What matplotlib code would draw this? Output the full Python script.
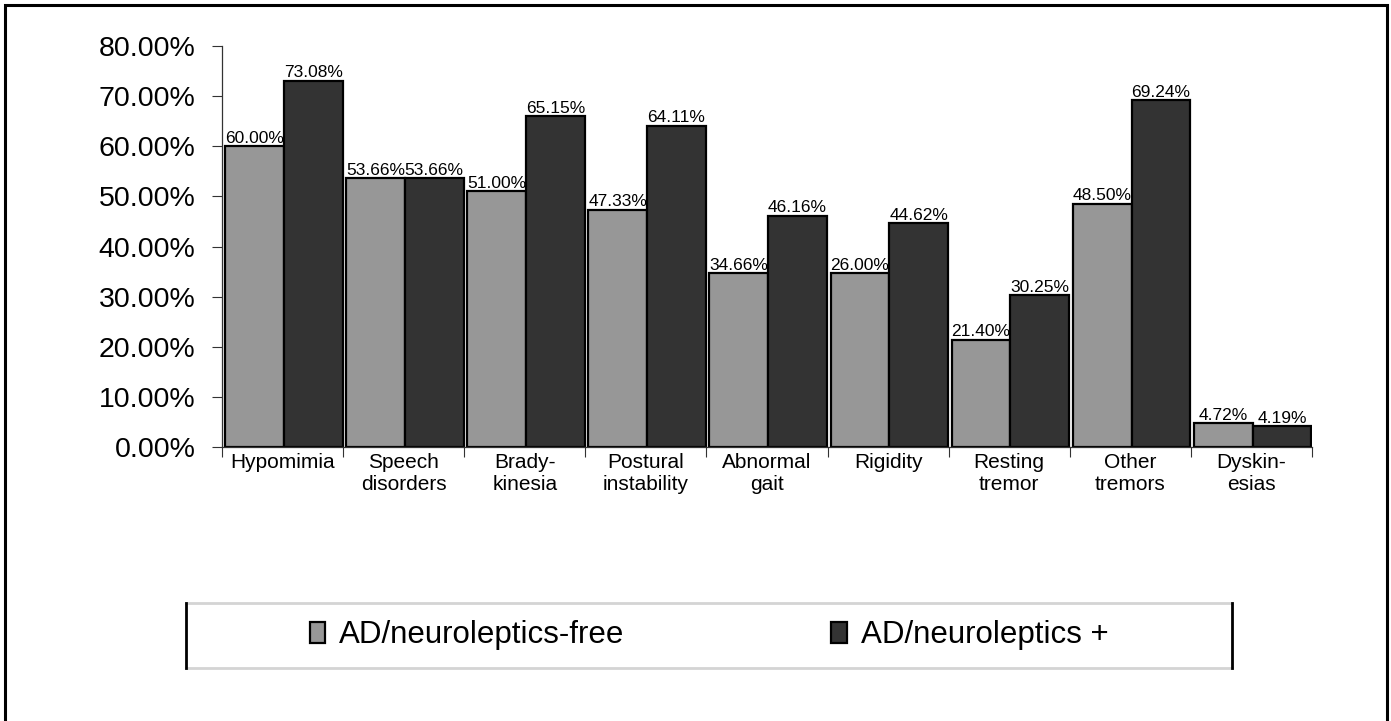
import matplotlib
matplotlib.use("Agg")
import matplotlib.pyplot as plt
from matplotlib.lines import Line2D
from matplotlib.patches import Rectangle
import numpy as np

plt.rcParams['font.family'] = ['Liberation Sans', 'DejaVu Sans']

# data
categories = ["Hypomimia", "Speech\ndisorders", "Brady-\nkinesia", "Postural\ninstability",
              "Abnormal\ngait", "Rigidity", "Resting\ntremor", "Other\ntremors", "Dyskin-\nesias"]
free_heights = [60.00, 53.66, 51.00, 47.33, 34.66, 34.66, 21.40, 48.50, 4.72]
plus_heights = [73.08, 53.66, 66.00, 64.11, 46.16, 44.62, 30.25, 69.24, 4.19]
free_labels = ["60.00%", "53.66%", "51.00%", "47.33%", "34.66%", "26.00%", "21.40%", "48.50%", "4.72%"]
plus_labels = ["73.08%", "53.66%", "65.15%", "64.11%", "46.16%", "44.62%", "30.25%", "69.24%", "4.19%"]
yticks = [0, 10, 20, 30, 40, 50, 60, 70, 80]
series_names = ["AD/neuroleptics-free", "AD/neuroleptics +"]

fig = plt.figure(figsize=(13.91, 7.21), dpi=100)
ax = fig.add_axes([0.1596, 0.380, 0.7836, 0.5562])

x = np.arange(len(categories))
w = 0.485
b1 = ax.bar(x + 0.025, free_heights, width=w, align='edge', color='#979797',
            edgecolor='black', linewidth=1.6, label=series_names[0])
b2 = ax.bar(x + 0.025 + w, plus_heights, width=w, align='edge', color='#333333',
            edgecolor='black', linewidth=1.6, label=series_names[1])

for rect, lab in zip(b1, free_labels):
    ax.annotate(lab, (rect.get_x() + rect.get_width() / 2, rect.get_height()),
                xytext=(0, 0.3), textcoords='offset points', ha='center', va='bottom', fontsize=12.5)
for rect, lab in zip(b2, plus_labels):
    ax.annotate(lab, (rect.get_x() + rect.get_width() / 2, rect.get_height()),
                xytext=(0, 0.3), textcoords='offset points', ha='center', va='bottom', fontsize=12.5)

ax.set_xlim(0, len(categories))
ax.set_ylim(0, 80)
ax.set_yticks(yticks)
ax.set_yticklabels(["%.2f%%" % v for v in yticks], fontsize=20.5)
ax.tick_params(axis='y', length=7, width=0.8, pad=12, color='#333333')

# ticks at group boundaries, labels in the middle
ax.set_xticks(np.arange(len(categories) + 1))
ax.set_xticklabels([])
ax.set_xticks(x + 0.5, minor=True)
ax.set_xticklabels(categories, minor=True, fontsize=15)
ax.tick_params(axis='x', which='major', length=7, width=0.8, color='#333333')
ax.tick_params(axis='x', which='minor', length=0, pad=4)

for s in ['top', 'right']:
    ax.spines[s].set_visible(False)
for s in ['left', 'bottom']:
    ax.spines[s].set_linewidth(0.9)
    ax.spines[s].set_color('#333333')

# legend
leg = fig.legend(handles=[b1, b2], loc='center', bbox_to_anchor=(0.5097, 0.1186), ncol=2,
                 frameon=False, fontsize=22.5, handlelength=0.5, handleheight=0.65,
                 handletextpad=0.45, columnspacing=6.6)

# legend box: gray top/bottom, black sides
lx0, lx1 = 186 / 1391, 1232 / 1391
ly0, ly1 = 1 - 668 / 721, 1 - 603 / 721
fig.add_artist(Line2D([lx0, lx1], [ly1, ly1], color='#d4d4d4', lw=2, transform=fig.transFigure))
fig.add_artist(Line2D([lx0, lx1], [ly0, ly0], color='#d4d4d4', lw=2, transform=fig.transFigure))
fig.add_artist(Line2D([lx0, lx0], [ly0, ly1], color='black', lw=2, transform=fig.transFigure))
fig.add_artist(Line2D([lx1, lx1], [ly0, ly1], color='black', lw=2, transform=fig.transFigure))

# outer frame
fig.add_artist(Rectangle((5 / 1391, -0.02), 1382 / 1391, 1.02 - 5 / 721, fill=False,
                         edgecolor='black', lw=2.2, transform=fig.transFigure))

fig.savefig("out.png", dpi=100)
